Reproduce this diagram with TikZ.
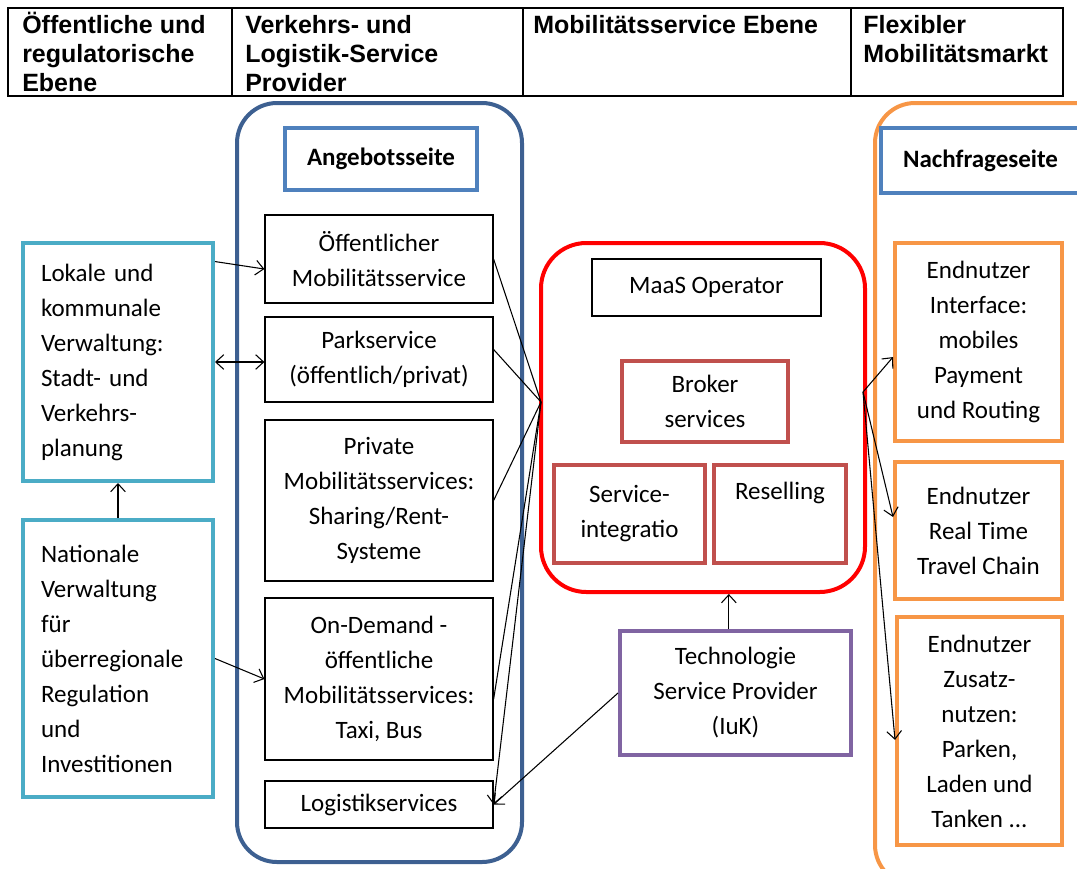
\documentclass[tikz,border=0pt]{standalone}
\usepackage{fontspec}
\setmainfont{Carlito}
\newfontfamily\headfont{Liberation Sans}
\usetikzlibrary{arrows,arrows.meta}
\usetikzlibrary{positioning}
\definecolor{angebotblue}{RGB}{61,96,145}
\definecolor{boxblue}{RGB}{79,129,189}
\definecolor{verwcyan}{RGB}{75,172,198}
\definecolor{maasred}{RGB}{255,0,0}
\definecolor{brokerred}{RGB}{192,80,77}
\definecolor{techlila}{RGB}{128,100,162}
\definecolor{nachorange}{RGB}{247,150,70}

\begin{document}
\begin{tikzpicture}[x=0.75pt,y=-0.75pt,
    >={Straight Barb[length=6pt,width=11pt]},
    txt/.style={font=\fontsize{18.75}{26.25}\selectfont, align=center, inner sep=0pt},
    head/.style={font=\headfont\bfseries\fontsize{18.75}{21.75}\selectfont, align=left, inner sep=0pt, anchor=north west},
    sbox/.style={txt, draw=black, line width=0.9pt, minimum width=171pt},
    verw/.style={txt, draw=verwcyan, line width=3pt, align=left, text width=115.5pt, inner xsep=13.5pt, minimum width=142.5pt},
    side/.style={txt, draw=boxblue, line width=2.5pt, font=\fontsize{18.75}{26.25}\selectfont\bfseries},
    broker/.style={txt, draw=brokerred, line width=3pt},
    endn/.style={txt, draw=nachorange, line width=3pt},
    cont/.style={line width=3pt, rounded corners=30pt, minimum width=0pt},
    conn/.style={line width=0.8pt}]
    \useasboundingbox (0,0) rectangle (1077,868);
    \clip (0,0) rectangle (1077,868);

    % Kopfzeile
    \draw[line width=1.1pt] (8,8) rectangle (1063,96);
    \foreach \x in {232,523,851} \draw[line width=1.1pt] (\x,8) -- (\x,96);
    \node[head] (h1) at (22,12) {Öffentliche und\\regulatorische\\Ebene};
    \node[head] (h2) at (245,12) {\vphantom{Ö}Verkehrs- und\\Logistik-Service\\Provider};
    \node[head] (h3) at (533,12) {\vphantom{Ö}Mobilitätsservice Ebene};
    \node[head] (h4) at (863,12) {\vphantom{Ö}Flexibler\\Mobilitätsmarkt};

    % Angebotsseite
    \node[cont, draw=angebotblue, minimum width=213.75pt, minimum height=569.25pt] (angebot) at (379.5,482.5) {};
    \node[side, minimum width=144pt, minimum height=46.5pt] (angtitel) at (381,159) {Angebotsseite};
    \node[sbox, minimum height=66pt] (oeff) at (379,259) {Öffentlicher\\Mobilitätsservice};
    \node[sbox, minimum height=63.75pt] (park) at (379,359.5) {Parkservice\\(öffentlich/privat)};
    \node[sbox, minimum height=120.75pt] (priv) at (379,500.5) {Private\\Mobilitätsservices:\\Sharing/Rent-\\Systeme};
    \node[sbox, minimum height=121.5pt] (ondem) at (379,679) {On-Demand -\\öffentliche\\Mobilitätsservices:\\Taxi, Bus};
    \node[sbox, minimum height=35.25pt] (logi) at (379,804.5) {Logistikservices};

    % Verwaltung
    \node[verw, minimum height=178.5pt] (lokal) at (118,362) {Lokale und\\kommunale\\Verwaltung:\\Stadt- und\\Verkehrs-\\planung};
    \node[verw, minimum height=207.75pt] (nat) at (118,658.5) {Nationale\\Verwaltung\\für\\überregionale\\Regulation\\und\\Investitionen};

    % MaaS
    \node[cont, draw=maasred, rounded corners=34pt, minimum width=243pt, minimum height=261.75pt] (maas) at (703,417.5) {};
    \node[sbox, minimum width=171.75pt, minimum height=42.75pt] (maasop) at (706.5,287.5) {MaaS Operator};
    \node[broker, minimum width=124.5pt, minimum height=60.75pt] (brok) at (705,401.5) {Broker\\services};
    \node[broker, minimum width=113.25pt, minimum height=73.5pt] (servint) at (629.5,514) {Service-\\integratio};
    \node[broker, minimum width=99pt, minimum height=73.5pt] (resell) at (780,514) {Reselling\\\strut};
    \node[txt, draw=techlila, line width=3pt, minimum width=173.25pt, minimum height=93pt] (tech) at (735.5,693) {Technologie\\Service Provider\\(IuK)};

    % Nachfrageseite
    \node[cont, draw=nachorange, minimum width=180pt, minimum height=586.5pt] (nachfrage) at (995,494) {};
    \node[side, minimum width=149.25pt, minimum height=48.75pt] (nachtitel) at (980.5,160.5) {Nachfrageseite};
    \node[endn, minimum width=125.25pt, minimum height=148.5pt] (endA) at (978.5,342) {Endnutzer\\Interface:\\mobiles\\Payment\\und Routing};
    \node[endn, minimum width=125.25pt, minimum height=102.75pt] (endB) at (978.5,530.5) {Endnutzer\\Real Time\\Travel Chain};
    \node[endn, minimum width=123.75pt, minimum height=171pt] (endC) at (979.5,731) {Endnutzer\\Zusatz-\\nutzen:\\Parken,\\Laden und\\Tanken ...};

    % Verbindungen
    \coordinate (hubL) at (541,402);
    \coordinate (hubR) at (863,392);
    \draw[conn,->] (nat.north) -- (lokal.south);
    \draw[conn,->] (lokal.46.5) -- (oeff.185);
    \draw[conn,<->] (lokal.east) -- (lokal.east -| park.west);
    \draw[conn,->] (nat.east) -- (ondem.west);
    \draw[conn] (hubL) -- (oeff.east);
    \draw[conn] (hubL) -- (park.5);
    \draw[conn] (hubL) -- (priv.east);
    \draw[conn] (hubL) -- (ondem.-10);
    \draw[conn,->] (hubL) -- (logi.east);
    \draw[conn,->] (tech.west) -- (logi.east);
    \draw[conn,->] ([xshift=-5pt]tech.north) -- ([xshift=-5pt]tech.north |- maas.south);
    \draw[conn,->] (hubR) -- (endA.190);
    \draw[conn,->] (hubR) -- (endB.171);
    \draw[conn,->] (hubR) -- (endC.186);
\end{tikzpicture}
\end{document}
